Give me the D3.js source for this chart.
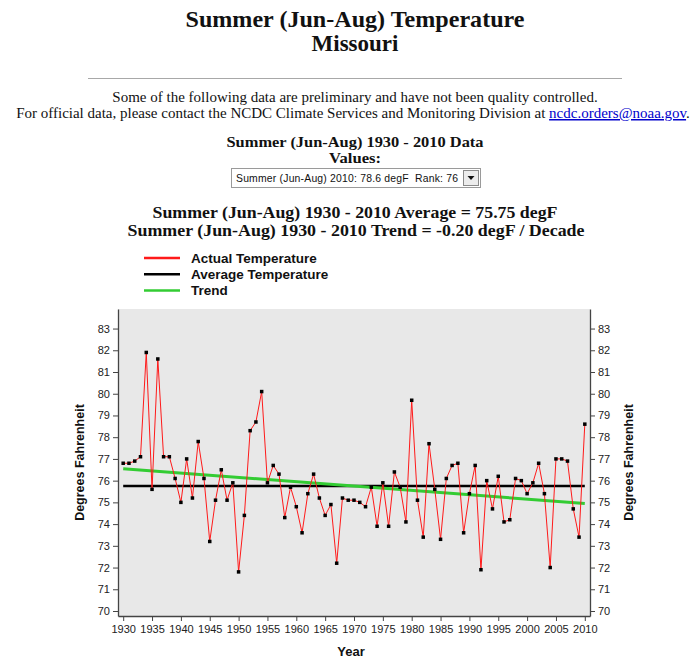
<!DOCTYPE html>
<html>
<head>
<meta charset="utf-8">
<script src="https://cdn.jsdelivr.net/npm/d3@7"></script>
<style>
  body { margin: 0; background: #fff; }
  svg { display: block; }
  .tick text { font-family: "Liberation Sans", Arial, sans-serif; font-size: 11px; fill: #222; }
  .axis path, .axis line { stroke: #444; }
</style>
</head>
<body>
<svg width="700" height="663"></svg>
<script>
const years = d3.range(1930, 2011)
const temps = [
  76.8, 76.8, 76.9, 77.1, 81.9, 75.6, 81.6, 77.1, 77.1, 76.1,
  75.0, 77.0, 75.2, 77.8, 76.1, 73.2, 75.1, 76.5, 75.1, 75.9,
  71.8, 74.4, 78.3, 78.7, 80.1, 75.9, 76.7, 76.3, 74.3, 75.7,
  74.8, 73.6, 75.4, 76.3, 75.2, 74.4, 74.9, 72.2, 75.2, 75.1,
  75.1, 75.0, 74.8, 75.7, 73.9, 75.9, 73.9, 76.4, 75.7, 74.1,
  79.7, 75.1, 73.4, 77.7, 75.6, 73.3, 76.1, 76.7, 76.8, 73.6,
  75.4, 76.7, 71.9, 76.0, 74.7, 76.2, 74.1, 74.2, 76.1, 76.0,
  75.4, 75.9, 76.8, 75.4, 72.0, 77.0, 77.0, 76.9, 74.7, 73.4,
  78.6,
]
const average = 75.75
const trendEnds = [76.55, 74.95]
const xTicks = d3.range(1930, 2011, 5)
const yTicks = d3.range(70, 84)
const legendItems = ['Actual Temperature', 'Average Temperature', 'Trend']
const legendColors = ['#ff1a1a', '#000000', '#33cc33']

const serif = '"Liberation Serif", "DejaVu Serif", serif'
const sans = '"Liberation Sans", Arial, sans-serif'

const svg = d3.select('svg')
const data = years.map((y, i) => ({ year: y, temp: temps[i] }))

// Header
const header = svg.append('g')
  .attr('font-family', serif)
  .attr('text-anchor', 'middle')
  .attr('fill', '#111')
header.append('text').attr('x', 355).attr('y', 27)
  .attr('font-size', 23).attr('font-weight', 'bold')
  .attr('textLength', 339).attr('lengthAdjust', 'spacingAndGlyphs')
  .text('Summer (Jun-Aug) Temperature')
header.append('text').attr('x', 355).attr('y', 51)
  .attr('font-size', 23).attr('font-weight', 'bold')
  .text('Missouri')

svg.append('line')
  .attr('x1', 88).attr('x2', 622).attr('y1', 78.5).attr('y2', 78.5)
  .attr('stroke', '#a8a8a8').attr('stroke-width', 1)

header.append('text').attr('x', 355).attr('y', 102)
  .attr('font-size', 15)
  .text('Some of the following data are preliminary and have not been quality controlled.')
const official = header.append('text').attr('x', 353).attr('y', 118)
  .attr('font-size', 15)
official.append('tspan')
  .text('For official data, please contact the NCDC Climate Services and Monitoring Division at ')
official.append('tspan')
  .attr('fill', '#0000cc').attr('text-decoration', 'underline')
  .text('ncdc.orders@noaa.gov')
official.append('tspan').text('.')

header.append('text').attr('x', 355).attr('y', 147)
  .attr('font-size', 14.5).attr('font-weight', 'bold')
  .attr('textLength', 257).attr('lengthAdjust', 'spacingAndGlyphs')
  .text('Summer (Jun-Aug) 1930 - 2010 Data')
header.append('text').attr('x', 355).attr('y', 163)
  .attr('font-size', 14.5).attr('font-weight', 'bold')
  .attr('textLength', 52).attr('lengthAdjust', 'spacingAndGlyphs')
  .text('Values:')

// Dropdown
const dd = svg.append('g')
dd.append('rect')
  .attr('x', 231.5).attr('y', 168.5).attr('width', 249).attr('height', 19)
  .attr('fill', '#fff').attr('stroke', '#9a9a9a')
dd.append('text').attr('x', 236).attr('y', 182)
  .attr('font-family', sans).attr('font-size', 10.4).attr('fill', '#111')
  .attr('xml:space', 'preserve')
  .attr('textLength', 222).attr('lengthAdjust', 'spacing')
  .text('Summer (Jun-Aug) 2010: 78.6 degF  Rank: 76')
dd.append('rect')
  .attr('x', 463.5).attr('y', 170.5).attr('width', 15).attr('height', 15)
  .attr('fill', '#ececec').attr('stroke', '#8a8a8a')
dd.append('path')
  .attr('d', 'M467.5,176 L474.5,176 L471,180 Z')
  .attr('fill', '#111')

header.append('text').attr('x', 355).attr('y', 218)
  .attr('font-size', 16.5).attr('font-weight', 'bold')
  .attr('textLength', 405).attr('lengthAdjust', 'spacingAndGlyphs')
  .text('Summer (Jun-Aug) 1930 - 2010 Average = 75.75 degF')
header.append('text').attr('x', 356).attr('y', 236)
  .attr('font-size', 16.5).attr('font-weight', 'bold')
  .attr('textLength', 457).attr('lengthAdjust', 'spacingAndGlyphs')
  .text('Summer (Jun-Aug) 1930 - 2010 Trend = -0.20 degF / Decade')

// Legend
const legend = svg.append('g').selectAll('g')
  .data(legendItems)
  .join('g')
  .attr('transform', (d, i) => `translate(144,${ 258 + i * 16.3 })`)
legend.append('line')
  .attr('x1', 0).attr('x2', 36)
  .attr('stroke', (d, i) => legendColors[i]).attr('stroke-width', 2.5)
legend.append('text')
  .attr('x', 47).attr('y', 4.5)
  .attr('font-family', sans).attr('font-size', 13.5).attr('font-weight', 'bold')
  .attr('fill', '#111')
  .text(d => d)

// Chart
const plot = { left: 118, right: 590, top: 309, bottom: 616 }
const xScale = d3.scaleLinear([1929.1, 2010.9], [plot.left, plot.right])
const yScale = d3.scaleLinear([69.77, 83.9], [plot.bottom, plot.top])

svg.append('rect')
  .attr('x', plot.left).attr('y', plot.top)
  .attr('width', plot.right - plot.left).attr('height', plot.bottom - plot.top)
  .attr('fill', '#e8e8e8')

svg.append('g')
  .classed('axis', true)
  .attr('transform', `translate(${ plot.left },0)`)
  .call(d3.axisLeft(yScale).tickValues(yTicks).tickSize(5).tickSizeOuter(0).tickPadding(3))
svg.append('g')
  .classed('axis', true)
  .attr('transform', `translate(${ plot.right },0)`)
  .call(d3.axisRight(yScale).tickValues(yTicks).tickSize(5).tickSizeOuter(0).tickPadding(3))
svg.append('g')
  .classed('axis', true)
  .attr('transform', `translate(0,${ plot.bottom })`)
  .call(d3.axisBottom(xScale).tickValues(xTicks).tickFormat(d3.format('d')).tickSize(5).tickSizeOuter(0).tickPadding(4))

svg.selectAll('.axis .domain').attr('stroke-width', 1.3)

// Average
svg.append('line')
  .attr('x1', xScale(years[0])).attr('x2', xScale(years[years.length - 1]))
  .attr('y1', yScale(average)).attr('y2', yScale(average))
  .attr('stroke', '#000').attr('stroke-width', 2.5)

// Trend
svg.append('line')
  .attr('x1', xScale(years[0])).attr('x2', xScale(years[years.length - 1]))
  .attr('y1', yScale(trendEnds[0])).attr('y2', yScale(trendEnds[1]))
  .attr('stroke', '#33cc33').attr('stroke-width', 3)

// Actual
svg.append('path')
  .datum(data)
  .attr('fill', 'none')
  .attr('stroke', '#ff1a1a')
  .attr('stroke-width', 1)
  .attr('d', d3.line().x(d => xScale(d.year)).y(d => yScale(d.temp)))

svg.append('g').selectAll('rect')
  .data(data)
  .join('rect')
  .attr('x', d => xScale(d.year) - 1.75)
  .attr('y', d => yScale(d.temp) - 1.75)
  .attr('width', 3.5).attr('height', 3.5)
  .attr('fill', '#000')

// Axis titles
svg.append('text')
  .attr('transform', `translate(84,${ (plot.top + plot.bottom) / 2 }) rotate(-90)`)
  .attr('text-anchor', 'middle')
  .attr('font-family', sans).attr('font-size', 12.5).attr('font-weight', 'bold')
  .attr('fill', '#111')
  .text('Degrees Fahrenheit')
svg.append('text')
  .attr('transform', `translate(633,${ (plot.top + plot.bottom) / 2 }) rotate(-90)`)
  .attr('text-anchor', 'middle')
  .attr('font-family', sans).attr('font-size', 12.5).attr('font-weight', 'bold')
  .attr('fill', '#111')
  .text('Degrees Fahrenheit')
svg.append('text')
  .attr('x', (plot.left + plot.right) / 2 - 3).attr('y', 656)
  .attr('text-anchor', 'middle')
  .attr('font-family', sans).attr('font-size', 13).attr('font-weight', 'bold')
  .attr('fill', '#111')
  .text('Year')
</script>
</body>
</html>
